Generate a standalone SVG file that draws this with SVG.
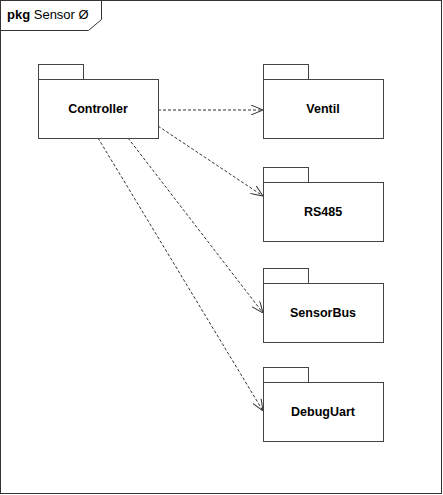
<svg xmlns="http://www.w3.org/2000/svg" width="443" height="495" viewBox="0 0 443 495">
<style>
.frame{fill:#fff;stroke:#333;stroke-width:1}
.pkg{fill:#fff;stroke:#444;stroke-width:1}
.lbl{font-family:"Liberation Sans",Arial,sans-serif;font-size:12.5px;font-weight:bold;fill:#000;text-anchor:middle}
.dep{fill:none;stroke:#333;stroke-width:1;stroke-dasharray:3,2}
.title{font-family:"Liberation Sans",Arial,sans-serif;font-size:13px;fill:#000}
</style>
<defs>
<marker id="open" viewBox="0 0 12 10" refX="12" refY="5" markerWidth="12" markerHeight="10" markerUnits="userSpaceOnUse" orient="auto">
<path d="M0,0 L12,5 L0,10" fill="none" stroke="#333" stroke-width="1"/>
</marker>
</defs>
<rect x="0.5" y="0.5" width="441" height="493" fill="#fff" stroke="#333"/>
<path d="M0.5,30.5 H88.5 L101.5,19.5 V0.5" fill="none" stroke="#333"/>
<text x="7" y="19" class="title"><tspan font-weight="bold">pkg</tspan> Sensor Ø</text>
<g id="connectors">
<line class="dep" x1="158" y1="110" x2="263" y2="110" marker-end="url(#open)"/>
<line class="dep" x1="158" y1="126" x2="263" y2="196" marker-end="url(#open)"/>
<line class="dep" x1="128" y1="138" x2="263" y2="313" marker-end="url(#open)"/>
<line class="dep" x1="98" y1="138" x2="263" y2="411" marker-end="url(#open)"/>
</g>
<g id="Controller">
<rect class="pkg" x="38.5" y="64.5" width="45" height="15"/>
<rect class="pkg" x="38.5" y="79.5" width="120" height="59"/>
<text class="lbl" x="98" y="113">Controller</text>
</g>
<g id="Ventil">
<rect class="pkg" x="263.5" y="64.5" width="45" height="15"/>
<rect class="pkg" x="263.5" y="79.5" width="120" height="59"/>
<text class="lbl" x="323" y="113">Ventil</text>
</g>
<g id="RS485">
<rect class="pkg" x="263.5" y="167.5" width="45" height="15"/>
<rect class="pkg" x="263.5" y="182.5" width="120" height="59"/>
<text class="lbl" x="323" y="216">RS485</text>
</g>
<g id="SensorBus">
<rect class="pkg" x="263.5" y="268.5" width="45" height="15"/>
<rect class="pkg" x="263.5" y="283.5" width="120" height="59"/>
<text class="lbl" x="323" y="317">SensorBus</text>
</g>
<g id="DebugUart">
<rect class="pkg" x="263.5" y="367.5" width="45" height="15"/>
<rect class="pkg" x="263.5" y="382.5" width="120" height="59"/>
<text class="lbl" x="323" y="416">DebugUart</text>
</g>
</svg>
